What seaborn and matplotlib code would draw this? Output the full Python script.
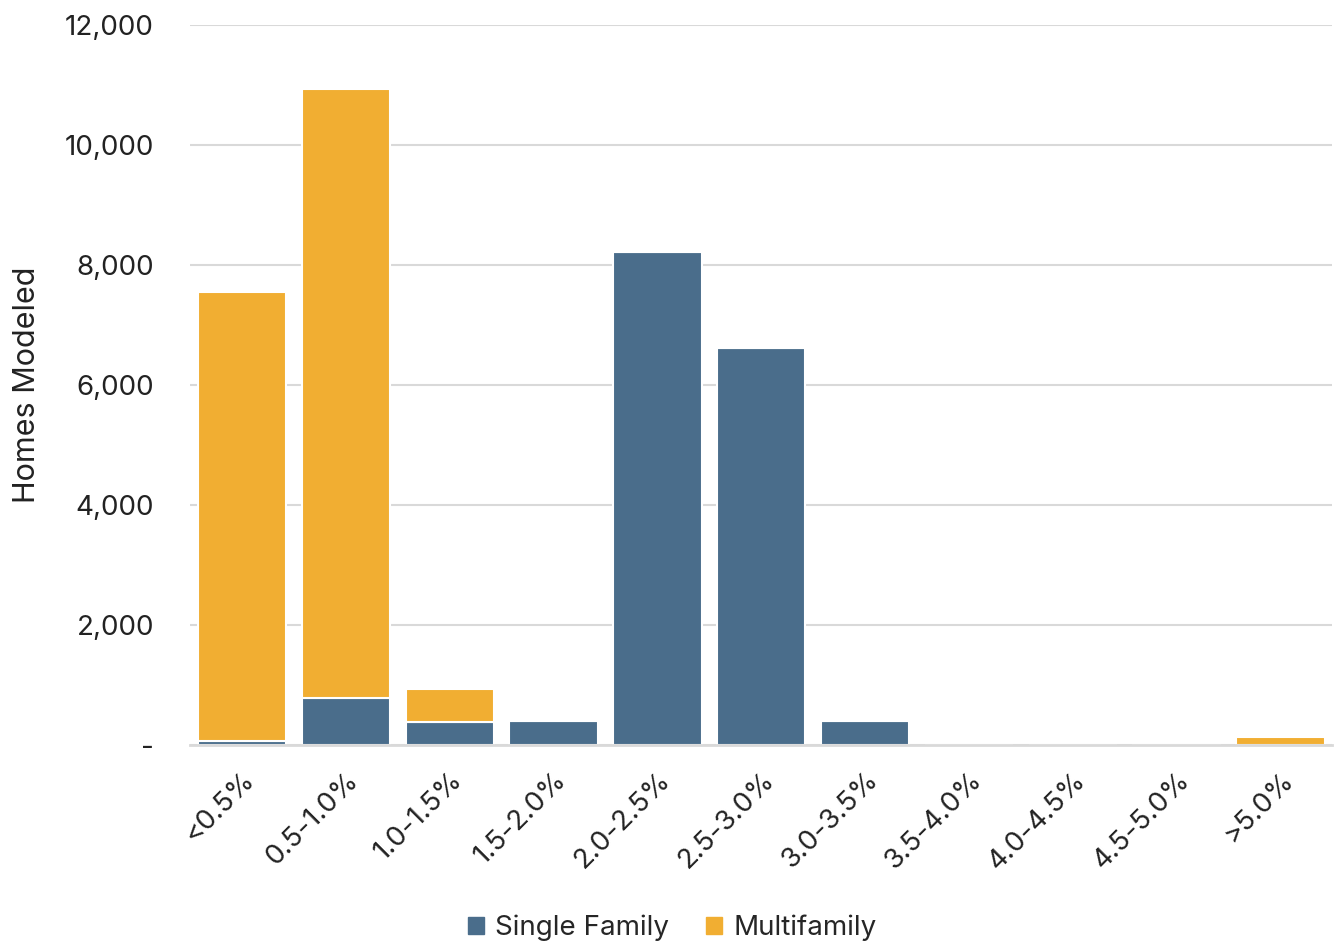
import numpy as np
import pandas as pd
import matplotlib
matplotlib.use('Agg')
import matplotlib.pyplot as plt
import seaborn as sns
from matplotlib.ticker import FuncFormatter
from matplotlib.patches import Patch

### data ###
categories = ['<0.5%', '0.5-1.0%', '1.0-1.5%', '1.5-2.0%', '2.0-2.5%', '2.5-3.0%',
              '3.0-3.5%', '3.5-4.0%', '4.0-4.5%', '4.5-5.0%', '>5.0%']
single_family = [70, 790, 390, 400, 8220, 6620, 400, 0, 0, 0, 0]
multifamily = [7480, 10150, 550, 0, 0, 0, 0, 0, 0, 0, 135]

sf_color = '#4A6D8B'
mf_color = '#F1AE32'

sns.set_style('white')
plt.rcParams['font.family'] = ['Inter', 'DejaVu Sans']

df = pd.DataFrame({'bucket': categories, 'Single Family': single_family, 'Multifamily': multifamily})

fig, ax = plt.subplots(figsize=(13.39, 9.43), dpi=100)
fig.subplots_adjust(left=0.142, right=0.995, top=0.9735, bottom=0.21)

sns.barplot(data=df, x='bucket', y='Single Family', color=sf_color, width=0.85,
            edgecolor='white', linewidth=1.5, saturation=1, ax=ax)
sns.barplot(data=df, x='bucket', y='Multifamily', color=mf_color, width=0.85,
            bottom=df['Single Family'], edgecolor='white', linewidth=1.5, saturation=1, ax=ax)

ax.set_ylim(0, 12000)
ax.set_xlim(-0.5, len(categories) - 0.5)
ax.set_yticks(np.arange(0, 12001, 2000))
ax.yaxis.set_major_formatter(FuncFormatter(lambda v, p: '-' if v == 0 else f'{int(v):,}'))
ax.tick_params(axis='y', labelsize=20, colors='#222222', length=0, pad=26)
ax.tick_params(axis='x', labelsize=20, colors='#222222', length=0, pad=16)
plt.setp(ax.get_xticklabels(), rotation=45, ha='right', rotation_mode='anchor')
for lbl in ax.get_xticklabels():
    lbl.set_x(lbl.get_position()[0])

ax.set_axisbelow(True)
ax.yaxis.grid(True, color='#D9D9D9', linewidth=1.5)
for s in ['top', 'right', 'left']:
    ax.spines[s].set_visible(False)
ax.spines['bottom'].set_color('#D9D9D9')
ax.spines['bottom'].set_linewidth(2)

ax.set_xlabel('')
ax.set_ylabel('Homes Modeled', fontsize=22, color='#222222', labelpad=17)

handles = [Patch(color=sf_color, label='Single Family'), Patch(color=mf_color, label='Multifamily')]
fig.legend(handles=handles, loc='center', bbox_to_anchor=(0.502, 0.016), ncol=2, frameon=False,
           fontsize=20, handlelength=0.6, handleheight=0.6, handletextpad=0.4, columnspacing=1.3)

plt.savefig('out.png', dpi=100)
